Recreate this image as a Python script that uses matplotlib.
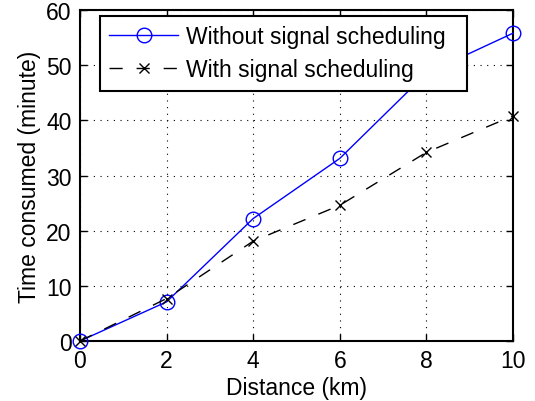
import matplotlib
matplotlib.use("Agg")
import matplotlib.pyplot as plt

distance = [0, 2, 4, 6, 8, 10]
without_sched = [0, 7.1, 22.2, 33.1, 48.5, 55.8]
with_sched = [0, 7.7, 18.1, 24.6, 34.2, 40.8]
xticks = [0, 2, 4, 6, 8, 10]
yticks = [0, 10, 20, 30, 40, 50, 60]

plt.rcParams['font.family'] = ['Liberation Sans', 'DejaVu Sans']
fs = 16.5

fig = plt.figure(figsize=(5.35, 4.02), dpi=100)
ax = fig.add_axes([80/535, 60/402, 433/535, 331/402])

ax.plot(distance, without_sched, color='blue', lw=1, marker='o', ms=10.5,
        mfc='none', mec='blue', mew=1, label='Without signal scheduling  ', clip_on=False, zorder=3)
ax.plot(distance, with_sched, color='black', lw=1, ls=(0, (9.5, 10)), marker='x', ms=7.5,
        mew=1, label='With signal scheduling', clip_on=False, zorder=3)

ax.set_xlim(0, 10)
ax.set_ylim(0, 60)
ax.set_xticks(xticks)
ax.set_yticks(yticks)
ax.tick_params(direction='in', length=5, width=1, labelsize=fs, top=True, right=True, pad=6)
for s in ax.spines.values():
    s.set_linewidth(1.5)
ax.grid(True, color='black', ls=(0, (1, 5)), lw=0.8)
ax.set_axisbelow(True)
ax.set_xlabel('Distance (km)', fontsize=fs, labelpad=3)
ax.set_ylabel('Time consumed (minute)', fontsize=fs, labelpad=4)

leg = ax.legend(loc='upper left', bbox_to_anchor=(20/433, 1 - 6/331), borderaxespad=0,
                fontsize=fs, handlelength=3.0, handletextpad=0.35, borderpad=0.4,
                labelspacing=0.45, fancybox=False, framealpha=1, edgecolor='black')
leg.get_frame().set_linewidth(1.5)
leg.set_zorder(5)

fig.savefig('out.png', dpi=100)
